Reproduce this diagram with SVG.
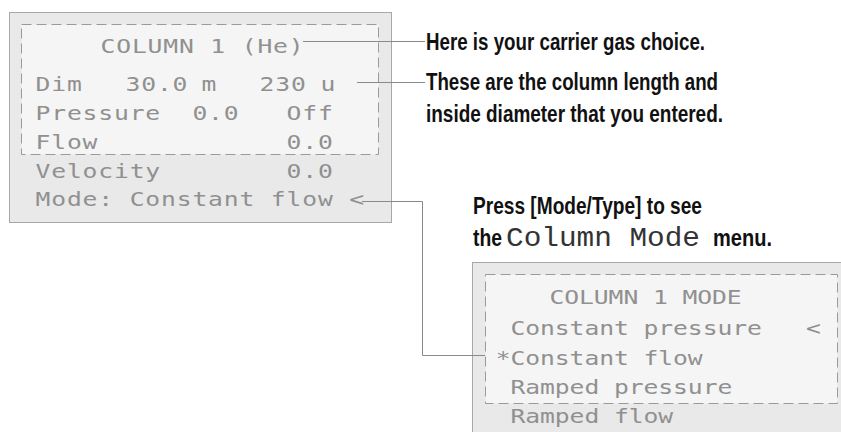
<svg xmlns="http://www.w3.org/2000/svg" width="841" height="432" viewBox="0 0 841 432">
<defs>
<style>
.panel{fill:#e9e9e9;stroke:#a8a8a8;stroke-width:1}
.inner{fill:#f5f5f5;stroke:#9a9a9a;stroke-width:1;stroke-dasharray:10 5}
.lcdL{font-family:"DejaVu Sans Mono",monospace;font-size:19px;fill:#909090;letter-spacing:0.64px}
.lcdR{font-family:"DejaVu Sans Mono",monospace;font-size:19px;fill:#909090;letter-spacing:-0.06px}
.note{font-family:"Liberation Sans",sans-serif;font-size:24px;font-weight:bold;fill:#111}
.mono{font-family:"Liberation Mono","Courier New",monospace;font-size:27px;fill:#333}
.conn{fill:none;stroke:#8a8a8a;stroke-width:1}
</style>
</defs>
<rect width="841" height="432" fill="#ffffff"/>
<g id="column-display">
<rect class="panel" x="9.5" y="12.5" width="382" height="210"/>
<rect class="inner" x="21.5" y="24.5" width="357" height="130"/>
<text class="lcdL" transform="translate(100.5 53) scale(1.3 1)">COLUMN 1 (He)</text>
<text class="lcdL" transform="translate(35.5 91) scale(1.3 1)">Dim</text>
<text class="lcdL" transform="translate(125.5 91) scale(1.3 1)">30.0</text>
<text class="lcdL" transform="translate(201.5 91) scale(1.3 1)">m</text>
<text class="lcdL" transform="translate(259.5 91) scale(1.3 1)">230</text>
<text class="lcdL" transform="translate(320.5 91) scale(1.3 1)">u</text>
<text class="lcdL" transform="translate(35.5 120) scale(1.3 1)" xml:space="preserve">Pressure  0.0   Off</text>
<text class="lcdL" transform="translate(35.5 149) scale(1.3 1)" xml:space="preserve">Flow            0.0</text>
<text class="lcdL" transform="translate(35.5 178) scale(1.3 1)" xml:space="preserve">Velocity        0.0</text>
<text class="lcdL" transform="translate(35.5 206) scale(1.3 1)" xml:space="preserve">Mode: Constant flow &lt;</text>
</g>
<g id="mode-menu">
<rect class="panel" x="472.5" y="262.5" width="380" height="180"/>
<rect class="inner" x="485.5" y="274.5" width="352" height="129"/>
<text class="lcdR" transform="translate(549.5 304) scale(1.3 1)">COLUMN 1 MODE</text>
<text class="lcdR" transform="translate(510.5 335) scale(1.3 1)" xml:space="preserve">Constant pressure   &lt;</text>
<text class="lcdR" transform="translate(495.7 365) scale(1.3 1)">*Constant flow</text>
<text class="lcdR" transform="translate(510.5 394) scale(1.3 1)">Ramped pressure</text>
<text class="lcdR" transform="translate(510.5 423) scale(1.3 1)">Ramped flow</text>
</g>
<g id="notes">
<text class="note" x="426" y="50" textLength="279" lengthAdjust="spacingAndGlyphs">Here is your carrier gas choice.</text>
<text class="note" x="426" y="90" textLength="292" lengthAdjust="spacingAndGlyphs">These are the column length and</text>
<text class="note" x="426" y="122" textLength="297" lengthAdjust="spacingAndGlyphs">inside diameter that you entered.</text>
<text class="note" x="473" y="214" textLength="229" lengthAdjust="spacingAndGlyphs">Press [Mode/Type] to see</text>
<text class="note" x="473" y="246" textLength="29" lengthAdjust="spacingAndGlyphs">the</text>
<text class="mono" x="506" y="246" textLength="194" lengthAdjust="spacingAndGlyphs">Column Mode</text>
<text class="note" x="713" y="246" textLength="59" lengthAdjust="spacingAndGlyphs">menu.</text>
</g>
<g id="connectors">
<line class="conn" x1="303" y1="41.5" x2="425" y2="41.5"/>
<line class="conn" x1="357" y1="82.5" x2="425" y2="82.5"/>
<polyline class="conn" points="362,201.5 422.5,201.5 422.5,355.5 485,355.5"/>
</g>
</svg>
